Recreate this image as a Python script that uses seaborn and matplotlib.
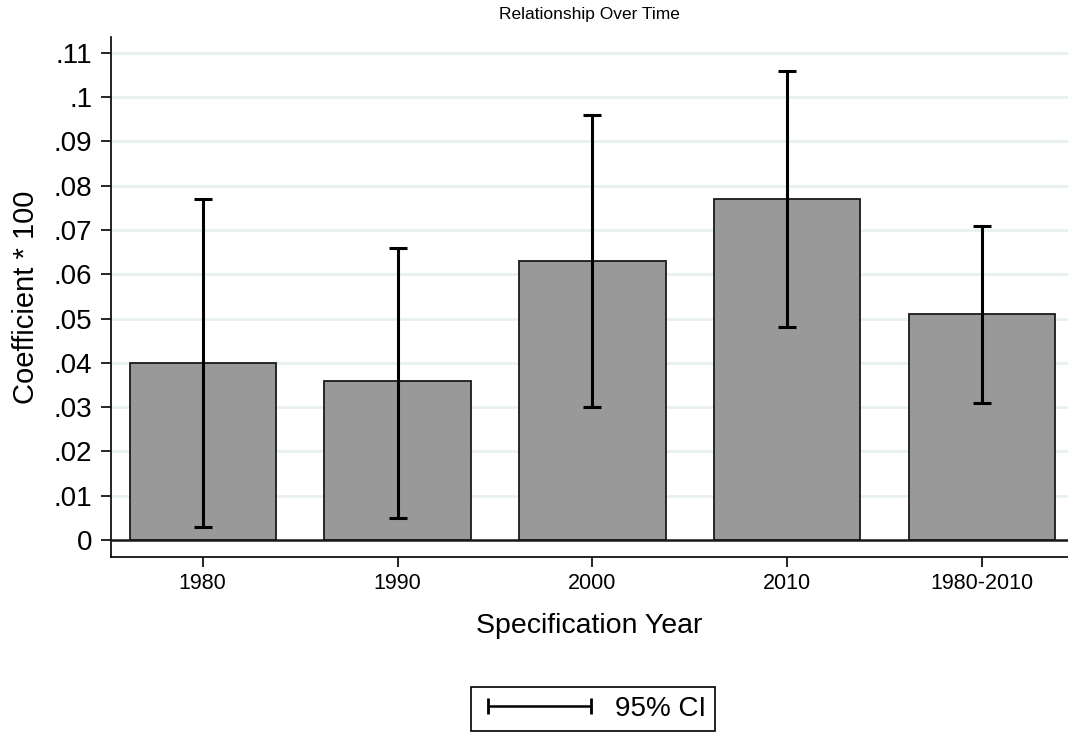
import numpy as np
import pandas as pd
import matplotlib
matplotlib.use("Agg")
import matplotlib.pyplot as plt
from matplotlib.lines import Line2D
import seaborn as sns

categories = ["1980", "1990", "2000", "2010", "1980-2010"]
coef = [0.040, 0.036, 0.063, 0.077, 0.051]
ci_low = [0.003, 0.005, 0.030, 0.048, 0.031]
ci_high = [0.077, 0.066, 0.096, 0.106, 0.071]
yticks = [0, .01, .02, .03, .04, .05, .06, .07, .08, .09, .10, .11]
ytick_labels = ["0", ".01", ".02", ".03", ".04", ".05", ".06", ".07", ".08", ".09", ".1", ".11"]

sns.set_theme(style="white")
plt.rcParams['font.family'] = ['Liberation Sans', 'DejaVu Sans']
plt.rcParams.update({"text.color": "black", "axes.labelcolor": "black",
                     "xtick.color": "black", "ytick.color": "black"})

df = pd.DataFrame({"cat": categories, "coef": coef})

fig = plt.figure(figsize=(10.68, 7.36), dpi=100)
ax = fig.add_axes([111/1068, 1 - 557/736, 1 - 111/1068, (557 - 37)/736])

for y in yticks:
    ax.axhline(y, color="#e8f0f2", lw=2, zorder=0)

sns.barplot(data=df, x="cat", y="coef", color="#999999", saturation=1,
            edgecolor="#1a1a1a", linewidth=1.3, width=0.75, errorbar=None, ax=ax, zorder=2)
ax.axhline(0, color="#1a1a1a", lw=1.8, zorder=3)

x = np.arange(len(categories))
c = np.array(coef)
err = np.vstack([c - np.array(ci_low), np.array(ci_high) - c])
ax.errorbar(x, c, yerr=err, fmt="none", ecolor="black", elinewidth=2.2,
            capsize=6.5, capthick=2.2, zorder=4)

ax.set_xlim(-0.47, 4.44)
ax.set_ylim(-0.00384, 0.1136)
ax.set_yticks(yticks)
ax.set_yticklabels(ytick_labels, fontsize=20)
ax.set_xticks(x)
ax.set_xticklabels(categories, fontsize=15.5)
for s in ["top", "right"]:
    ax.spines[s].set_visible(False)
for s in ["left", "bottom"]:
    ax.spines[s].set_color("black")
    ax.spines[s].set_linewidth(1.2)
ax.tick_params(axis="y", direction="out", length=7.5, width=1.2,
               color="black", left=True, pad=6)
ax.tick_params(axis="x", direction="out", length=7.5, width=1.2,
               color="black", bottom=True, pad=4)
ax.set_xlabel("Specification Year", fontsize=20.5, labelpad=14)
ax.set_ylabel("Coefficient * 100", fontsize=21, labelpad=10)
ax.set_title("Relationship Over Time", fontsize=12.5, pad=13)

handle = Line2D([0, 1], [0, 0], color="black", lw=1.8, marker="|",
                markersize=11, markeredgewidth=2)
fig.legend([handle], ["95% CI"], loc="center", bbox_to_anchor=(593/1068, 1 - 709/736),
           numpoints=2, frameon=True, fancybox=False, edgecolor="black",
           fontsize=20, handlelength=4.3, borderpad=0.32, framealpha=1,
           handletextpad=0.55)
leg = fig.legends[0]
leg.get_frame().set_linewidth(1.2)

fig.savefig("out.png", dpi=100, facecolor="white")
